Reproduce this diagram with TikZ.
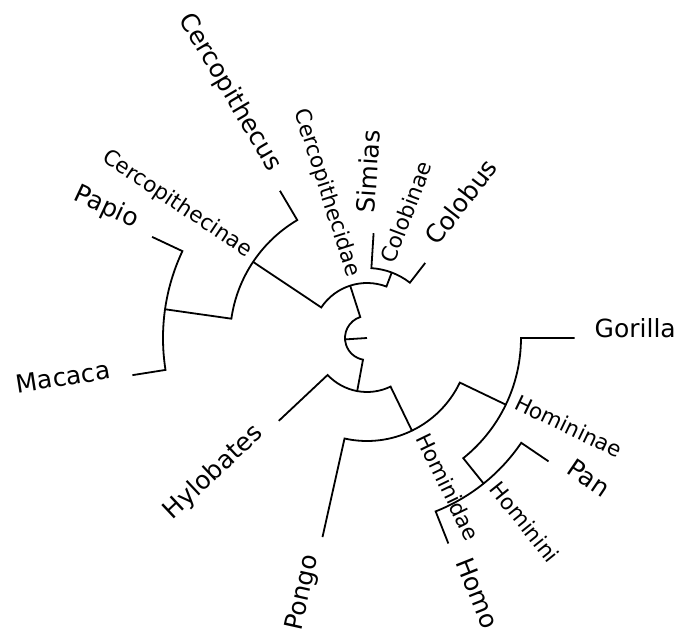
\documentclass[tikz,border=0pt]{standalone}
\usepackage{fontspec}
\setmainfont{DejaVu Sans}

\begin{document}
\begin{tikzpicture}[
  x=1pt, y=1pt,
  branch/.style={draw, line width=1.8pt, line join=miter},
  leafname/.style={inner sep=0pt, font=\fontsize{25}{30}\selectfont},
  cladename/.style={inner sep=0pt, font=\fontsize{21.5}{26}\selectfont},
  outward/.style={anchor=base west, rotate=#1},
  inward/.style={anchor=base east, rotate=#1-180}
]
\useasboundingbox (-367,-294) rectangle (311,338);

% node positions (angle:radius)
\coordinate (ctr) at (0,0);
\coordinate (root) at (183.7:22);
\coordinate (cercopithecidae) at (107.8:55);
\coordinate (hominoidea) at (259.54:54);
\coordinate (cercopithecinae) at (146.25:137);
\coordinate (colobinae) at (69.3:70);
\coordinate (cercopithecus) at (120.6:171);
\coordinate (papmac) at (171.9:204);
\coordinate (papio) at (154.8:237.5);
\coordinate (macaca) at (189:237.5);
\coordinate (simias) at (86.4:105);
\coordinate (colobus) at (52.2:95);
\coordinate (hylobates) at (223.2:121);
\coordinate (hominidae) at (295.875:103);
\coordinate (pongo) at (257.4:204);
\coordinate (homininae) at (334.35:154);
\coordinate (gorilla) at (360:207.5);
\coordinate (hominini) at (308.7:186.5);
\coordinate (pan) at (325.8:219.5);
\coordinate (homo) at (291.6:221);

% feet of the branches, on the parent's arc
\coordinate (cercopithecidae-f) at (107.8:22);
\coordinate (colobinae-f) at (69.3:55);
\coordinate (cercopithecus-f) at (120.6:137);
\coordinate (papio-f) at (154.8:204);
\coordinate (colobus-f) at (52.2:70);
\coordinate (hylobates-f) at (223.2:54);
\coordinate (pongo-f) at (257.4:103);
\coordinate (hominini-f) at (308.7:154);
\coordinate (homo-f) at (291.6:186.5);

% branches
\draw[branch] (ctr) -- (root);
\draw[branch] (cercopithecidae) -- (cercopithecidae-f)
  arc[start angle=107.8, end angle=259.54, radius=22pt] -- (hominoidea);
\draw[branch] (colobinae) -- (colobinae-f)
  arc[start angle=69.3, end angle=146.25, radius=55pt] -- (cercopithecinae);
\draw[branch] (cercopithecus) -- (cercopithecus-f)
  arc[start angle=120.6, end angle=171.9, radius=137pt] -- (papmac);
\draw[branch] (papio) -- (papio-f)
  arc[start angle=154.8, end angle=189, radius=204pt] -- (macaca);
\draw[branch] (colobus) -- (colobus-f)
  arc[start angle=52.2, end angle=86.4, radius=70pt] -- (simias);
\draw[branch] (hylobates) -- (hylobates-f)
  arc[start angle=223.2, end angle=295.875, radius=54pt] -- (hominidae);
\draw[branch] (pongo) -- (pongo-f)
  arc[start angle=257.4, end angle=334.35, radius=103pt] -- (homininae);
\draw[branch] (hominini) -- (hominini-f)
  arc[start angle=308.7, end angle=360, radius=154pt] -- (gorilla);
\draw[branch] (homo) -- (homo-f)
  arc[start angle=291.6, end angle=325.8, radius=186.5pt] -- (pan);

% leaf names
\node[leafname, outward=0] (gorilla-n) at (0:227.5) {Gorilla};
\node[leafname, outward=325.8] (pan-n) at (325.8:239.5) {Pan};
\node[leafname, outward=291.6] (homo-n) at (291.6:241) {Homo};
\node[leafname, inward=257.4] (pongo-n) at (257.4:224) {Pongo};
\node[leafname, inward=223.2] (hylobates-n) at (223.2:141) {Hylobates};
\node[leafname, inward=189] (macaca-n) at (189:258.5) {Macaca};
\node[leafname, inward=154.8] (papio-n) at (154.8:257.5) {Papio};
\node[leafname, inward=120.6] (cercopithecus-n) at (120.6:192) {Cercopithecus};
\node[leafname, outward=86.4] (simias-n) at (86.4:125) {Simias};
\node[leafname, outward=52.2] (colobus-n) at (52.2:115) {Colobus};

% clade names
\node[cladename, inward=107.8] (cercopithecidae-n) at (107.8:63) {Cercopithecidae};
\node[cladename, inward=146.25] (cercopithecinae-n) at (146.25:145) {Cercopithecinae};
\node[cladename, outward=69.3] (colobinae-n) at (69.3:78) {Colobinae};
\node[cladename, outward=295.875] (hominidae-n) at (295.875:111) {Hominidae};
\node[cladename, outward=334.35] (homininae-n) at (334.35:162) {Homininae};
\node[cladename, outward=308.7] (hominini-n) at (308.7:194.5) {Hominini};
\end{tikzpicture}
\end{document}
